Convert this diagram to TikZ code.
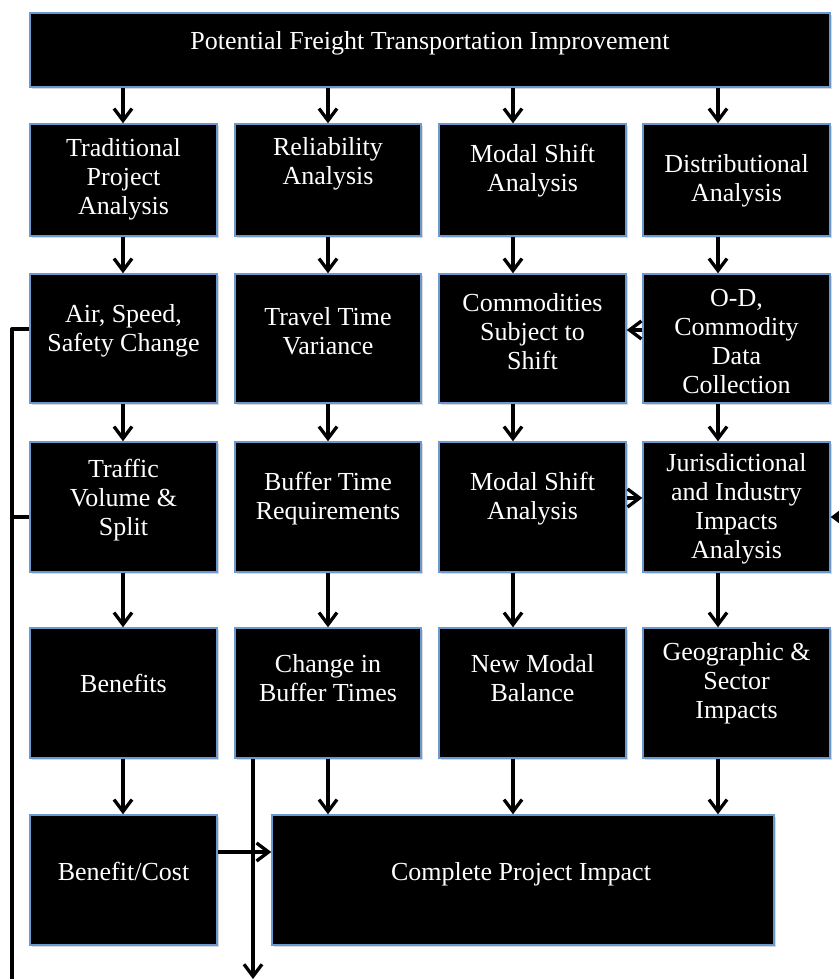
\documentclass[tikz,border=0pt]{standalone}
\usepackage{fontspec}
\setmainfont{Liberation Serif}
\usetikzlibrary{arrows.meta,shadows}
\definecolor{boxblue}{HTML}{6B98CF}
\begin{document}
\begin{tikzpicture}[x=1pt,y=-1pt,
  box/.style={rectangle, draw=boxblue, line width=1.4pt, fill=black, inner sep=0pt,
    minimum width=187pt, minimum height=130pt,
    drop shadow={shadow xshift=1.5pt, shadow yshift=-2pt, opacity=0.3, fill=gray}},
  txt/.style={text=white, align=center, inner sep=0pt, font=\fontsize{26}{29}\selectfont},
  arr/.style={line width=3.3pt, -{Straight Barb[length=12pt,width=18pt]}},
  ln/.style={line width=3.3pt, line join=round}]
\useasboundingbox (0,0) rectangle (838,979);
% column x positions for connectors
\coordinate (x1) at (123,0);
\coordinate (x2) at (328,0);
\coordinate (x3) at (513,0);
\coordinate (x4) at (718,0);
\coordinate (xl) at (12,0);
\coordinate (xb) at (253,0);
% boxes
\node[box, minimum width=800pt, minimum height=74pt] (top) at (430,50) {};
\node[box, minimum height=112pt] (a1) at (123.5,180) {};
\node[box, minimum height=112pt, minimum width=186pt] (a2) at (328,180) {};
\node[box, minimum height=112pt] (a3) at (532.5,180) {};
\node[box, minimum height=112pt] (a4) at (736.5,180) {};
\node[box, minimum height=129pt] (b1) at (123.5,338.5) {};
\node[box, minimum height=129pt, minimum width=186pt] (b2) at (328,338.5) {};
\node[box, minimum height=129pt] (b3) at (532.5,338.5) {};
\node[box, minimum height=129pt] (b4) at (736.5,338.5) {};
\node[box] (c1) at (123.5,507) {};
\node[box, minimum width=186pt] (c2) at (328,507) {};
\node[box] (c3) at (532.5,507) {};
\node[box] (c4) at (736.5,507) {};
\node[box] (d1) at (123.5,693) {};
\node[box, minimum width=186pt] (d2) at (328,693) {};
\node[box] (d3) at (532.5,693) {};
\node[box] (d4) at (736.5,693) {};
\node[box] (e1) at (123.5,880) {};
\node[box, minimum width=502pt] (e2) at (523,880) {};
% texts
\node[txt] (ttop) at (430,43) {Potential Freight Transportation Improvement};
\node[txt] (ta1) at (123.5,179) {Traditional\\Project\\Analysis};
\node[txt] (ta2) at (328,164) {Reliability\\Analysis};
\node[txt] (ta3) at (532.5,171) {Modal Shift\\Analysis};
\node[txt] (ta4) at (736.5,181) {Distributional\\Analysis};
\node[txt] (tb1) at (123.5,331) {Air, Speed,\\Safety Change};
\node[txt] (tb2) at (328,331) {Travel Time\\Variance};
\node[txt] (tb3) at (532.5,332) {Commodities\\Subject to\\Shift};
\node[txt] (tb4) at (736.5,342) {O-D,\\Commodity\\Data\\Collection};
\node[txt] (tc1) at (123.5,500) {Traffic\\Volume \&\\Split};
\node[txt] (tc2) at (328,499) {Buffer Time\\Requirements};
\node[txt] (tc3) at (532.5,499) {Modal Shift\\Analysis};
\node[txt] (tc4) at (736.5,509) {Jurisdictional\\and Industry\\Impacts\\Analysis};
\node[txt] (td1) at (123.5,683) {Benefits};
\node[txt] (td2) at (328,678) {Change in\\Buffer Times};
\node[txt] (td3) at (532.5,678) {New Modal\\Balance};
\node[txt] (td4) at (736.5,683) {Geographic \&\\Sector\\Impacts};
\node[txt] (te1) at (123.5,871) {Benefit/Cost};
\node[txt] (te2) at (521,874) {Complete Project Impact};
% vertical connectors
\draw[arr] (top.south -| x1) -- (a1.north -| x1);
\draw[arr] (top.south -| x2) -- (a2.north -| x2);
\draw[arr] (top.south -| x3) -- (a3.north -| x3);
\draw[arr] (top.south -| x4) -- (a4.north -| x4);
\draw[arr] (a1.south -| x1) -- (b1.north -| x1);
\draw[arr] (a2.south -| x2) -- (b2.north -| x2);
\draw[arr] (a3.south -| x3) -- (b3.north -| x3);
\draw[arr] (a4.south -| x4) -- (b4.north -| x4);
\draw[arr] (b1.south -| x1) -- (c1.north -| x1);
\draw[arr] (b2.south -| x2) -- (c2.north -| x2);
\draw[arr] (b3.south -| x3) -- (c3.north -| x3);
\draw[arr] (b4.south -| x4) -- (c4.north -| x4);
\draw[arr] (c1.south -| x1) -- (d1.north -| x1);
\draw[arr] (c2.south -| x2) -- (d2.north -| x2);
\draw[arr] (c3.south -| x3) -- (d3.north -| x3);
\draw[arr] (c4.south -| x4) -- (d4.north -| x4);
\draw[arr] (d1.south -| x1) -- (e1.north -| x1);
\draw[arr] (d2.south -| x2) -- (e2.north -| x2);
\draw[arr] (d3.south -| x3) -- (e2.north -| x3);
\draw[arr] (d4.south -| x4) -- (e2.north -| x4);
% horizontal connectors
\coordinate (yod) at (0,330);
\coordinate (yms) at (0,498);
\coordinate (ybc) at (0,852);
\draw[arr] (b4.west |- yod) -- (b3.east |- yod);
\draw[arr] (c3.east |- yms) -- (c4.west |- yms);
\draw[arr] (e1.east |- ybc) -- (e2.west |- ybc);
% buffer-time output line
\coordinate (bend) at (253,979);
\draw[arr] (d2.south -| xb) -- (bend);
% left feedback line
\coordinate (lair) at (12,329);
\coordinate (ltr) at (12,517);
\coordinate (lend) at (12,980);
\draw[ln] (b1.west |- lair) -- (lair) -- (lend);
\draw[ln] (c1.west |- ltr) -- (ltr);
% right incoming line
\coordinate (rin) at (840,517);
\draw[arr] (rin) -- (c4.east |- rin);
\end{tikzpicture}
\end{document}
